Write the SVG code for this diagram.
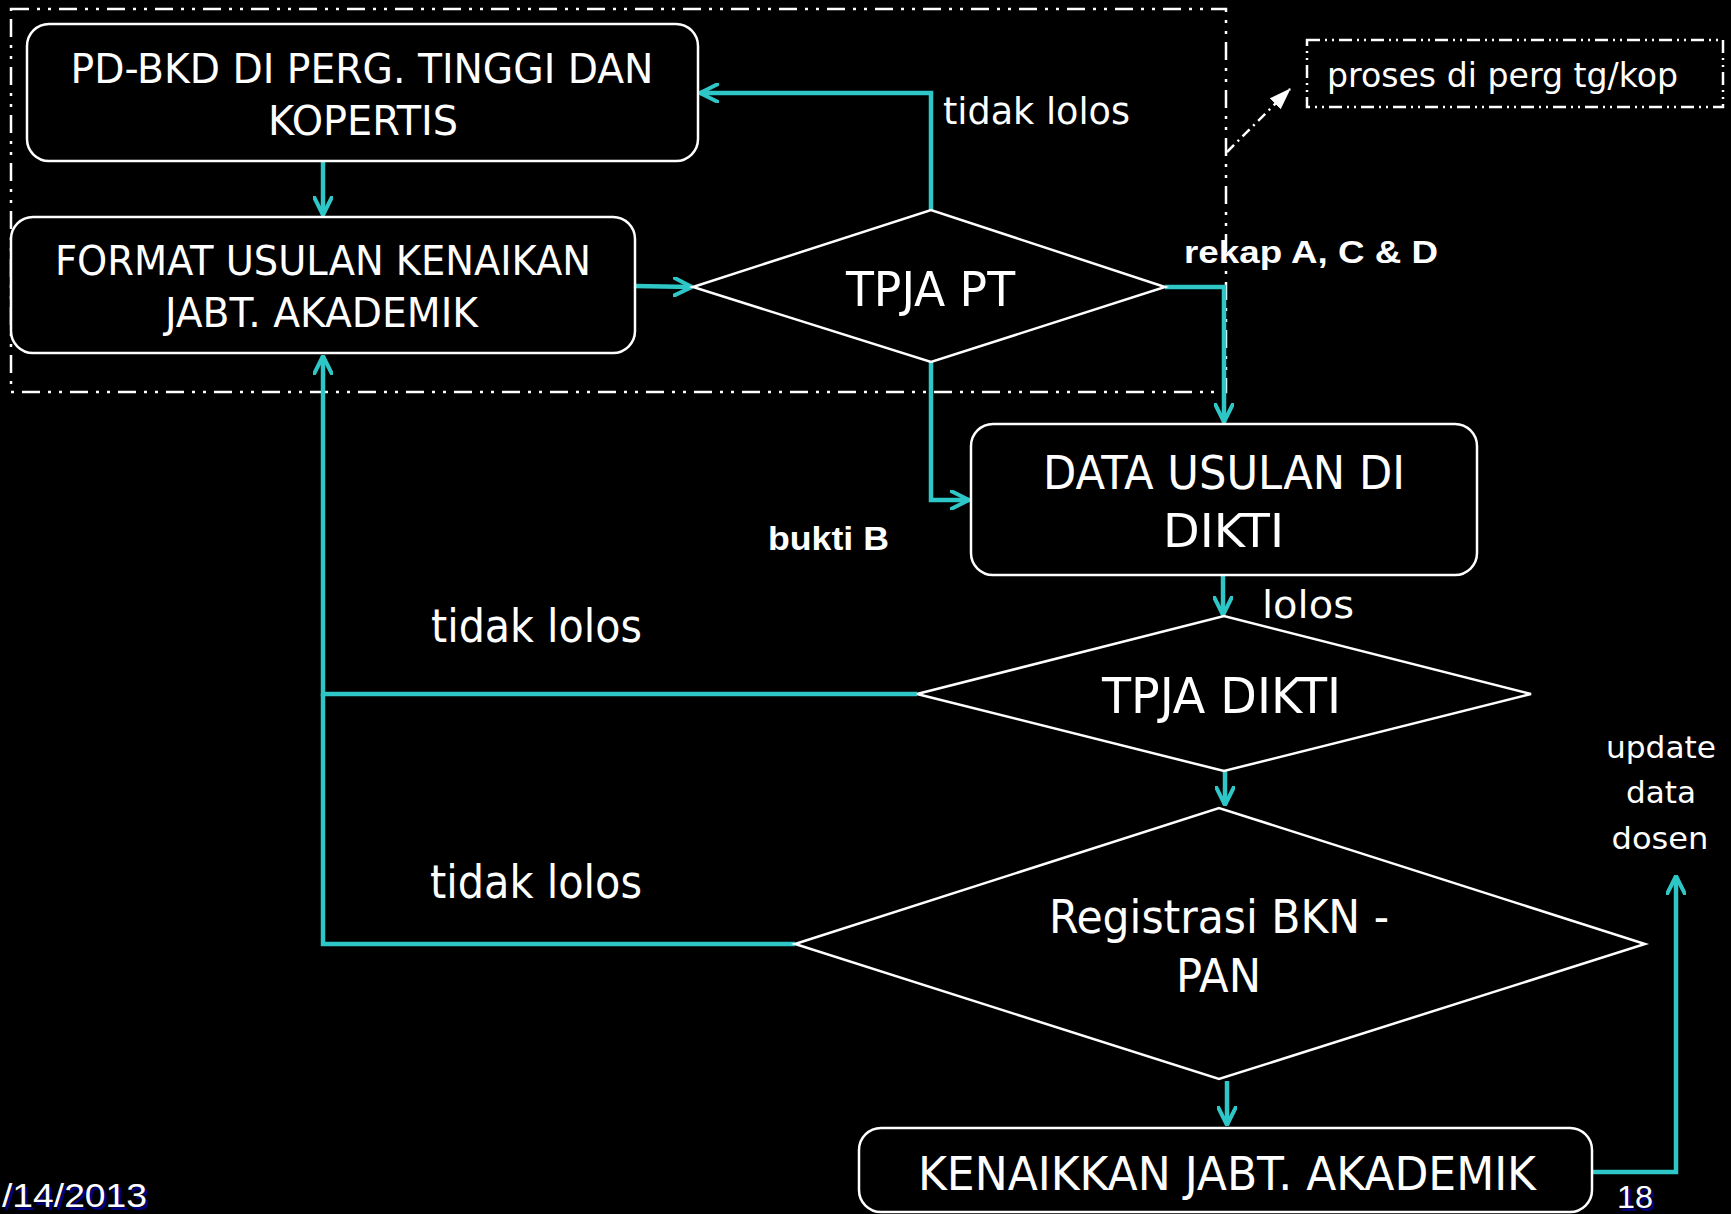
<svg xmlns="http://www.w3.org/2000/svg" width="1731" height="1214" viewBox="0 0 1731 1214">
<defs>
<style>
.bg{fill:#000}
.box{fill:#000;stroke:#fff;stroke-width:2.5}
.dd{fill:none;stroke:#fff;stroke-width:2.5;stroke-dasharray:18 8 3 8 3 8}
.dd2{fill:none;stroke:#fff;stroke-width:2.5;stroke-dasharray:13 5 2 5 2 5}
.t{fill:#fff;font-family:"DejaVu Sans Condensed","DejaVu Sans",sans-serif;text-anchor:middle}
.l{fill:#fff;font-family:"DejaVu Sans Condensed","DejaVu Sans",sans-serif}
.b{fill:#fff;font-family:"Liberation Sans",Arial,sans-serif;font-weight:bold}
.f{fill:#fff;font-family:"Liberation Sans",Arial,sans-serif}
.fs{fill:#000080;font-family:"Liberation Sans",Arial,sans-serif}
.c{fill:none;stroke:#2EC6C6;stroke-width:4.5;stroke-linejoin:miter}
</style>
<marker id="ah" viewBox="0 0 20 20" refX="19" refY="10" markerWidth="20" markerHeight="20" markerUnits="userSpaceOnUse" orient="auto">
<path d="M1,1 L19,10 L1,19" fill="none" stroke="#2EC6C6" stroke-width="4" stroke-linecap="round" stroke-linejoin="round"/>
</marker>
<marker id="wh" viewBox="0 0 20 20" refX="19" refY="10" markerWidth="22" markerHeight="22" markerUnits="userSpaceOnUse" orient="auto">
<path d="M0,3 L20,10 L0,17 Z" fill="#fff"/>
</marker>
</defs>
<rect class="bg" x="0" y="0" width="1731" height="1214"/>

<g id="group-pt">
<rect class="dd" x="11" y="9" width="1215" height="383"/>
</g>

<g id="legend">
<rect class="dd2" x="1307" y="40" width="416" height="67"/>
<text class="l" x="1327" y="87" font-size="34" textLength="351" lengthAdjust="spacingAndGlyphs">proses di perg tg/kop</text>
<path d="M1227,152 L1290,89" fill="none" stroke="#fff" stroke-width="2.5" stroke-dasharray="10 5 2 5" marker-end="url(#wh)"/>
</g>

<g id="connectors">
<path class="c" d="M323,161 L323,215" marker-end="url(#ah)"/>
<path class="c" d="M635,286 L692,287" marker-end="url(#ah)"/>
<path class="c" d="M931,210 L931,93 L700,93" marker-end="url(#ah)"/>
<path class="c" d="M1165,287 L1224,287 L1224,422" marker-end="url(#ah)"/>
<path class="c" d="M931,362 L931,500 L969,500" marker-end="url(#ah)"/>
<path class="c" d="M1223,575 L1223,615" marker-end="url(#ah)"/>
<path class="c" d="M917,694 L323,694 L323,356" marker-end="url(#ah)"/>
<path class="c" d="M795,944 L323,944 L323,694"/>
<path class="c" d="M1225,762 L1225,805" marker-end="url(#ah)"/>
<path class="c" d="M1227,1081 L1227,1125" marker-end="url(#ah)"/>
<path class="c" d="M1592,1172 L1676,1172 L1676,876" marker-end="url(#ah)"/>
</g>

<g id="node-pdbkd">
<rect class="box" x="27" y="24" width="671" height="137" rx="22"/>
<text class="t" x="362" y="83" font-size="41" textLength="583" lengthAdjust="spacingAndGlyphs">PD-BKD DI PERG. TINGGI DAN</text>
<text class="t" x="363" y="135" font-size="41" textLength="190" lengthAdjust="spacingAndGlyphs">KOPERTIS</text>
</g>

<g id="node-format">
<rect class="box" x="11" y="217" width="624" height="136" rx="22"/>
<text class="t" x="323" y="275" font-size="41" textLength="536" lengthAdjust="spacingAndGlyphs">FORMAT USULAN KENAIKAN</text>
<text class="t" x="321.5" y="327" font-size="41" textLength="313" lengthAdjust="spacingAndGlyphs">JABT. AKADEMIK</text>
</g>

<g id="node-tpjapt">
<polygon class="box" points="693,287 931,210 1165,287 931,362"/>
<text class="t" x="930.5" y="306" font-size="48" textLength="169" lengthAdjust="spacingAndGlyphs">TPJA PT</text>
</g>

<g id="node-data">
<rect class="box" x="971" y="424" width="506" height="151" rx="22"/>
<text class="t" x="1224" y="489" font-size="47" textLength="362" lengthAdjust="spacingAndGlyphs">DATA USULAN DI</text>
<text class="t" x="1223.5" y="547" font-size="47" textLength="121" lengthAdjust="spacingAndGlyphs">DIKTI</text>
</g>

<g id="node-tpjadikti">
<polygon class="box" points="917,694 1224,616 1531,694 1224,771"/>
<text class="t" x="1221.5" y="713" font-size="49" textLength="239" lengthAdjust="spacingAndGlyphs">TPJA DIKTI</text>
</g>

<g id="node-registrasi">
<polygon class="box" points="795,944 1219,808 1645,944 1219,1079"/>
<text class="t" x="1219" y="933" font-size="47" textLength="340" lengthAdjust="spacingAndGlyphs">Registrasi BKN -</text>
<text class="t" x="1218.5" y="992" font-size="47" textLength="85" lengthAdjust="spacingAndGlyphs">PAN</text>
</g>

<g id="node-kenaikkan">
<rect class="box" x="859" y="1128" width="733" height="84" rx="22"/>
<text class="t" x="1227" y="1190" font-size="47" textLength="618" lengthAdjust="spacingAndGlyphs">KENAIKKAN JABT. AKADEMIK</text>
</g>

<g id="labels">
<text class="l" x="943" y="124" font-size="38" textLength="187" lengthAdjust="spacingAndGlyphs">tidak lolos</text>
<text class="b" x="1184" y="263" font-size="32" textLength="254" lengthAdjust="spacingAndGlyphs">rekap A, C &amp; D</text>
<text class="b" x="768" y="550" font-size="33" textLength="121" lengthAdjust="spacingAndGlyphs">bukti B</text>
<text class="l" x="1262" y="618" font-size="37" textLength="92" lengthAdjust="spacingAndGlyphs">lolos</text>
<text class="l" x="431" y="642" font-size="46" textLength="211" lengthAdjust="spacingAndGlyphs">tidak lolos</text>
<text class="l" x="430" y="898" font-size="46" textLength="212" lengthAdjust="spacingAndGlyphs">tidak lolos</text>
<text class="t" x="1661" y="758" font-size="31" textLength="110" lengthAdjust="spacingAndGlyphs">update</text>
<text class="t" x="1661" y="803" font-size="31" textLength="70" lengthAdjust="spacingAndGlyphs">data</text>
<text class="t" x="1660" y="849" font-size="31" textLength="97" lengthAdjust="spacingAndGlyphs">dosen</text>
</g>

<g id="footer">
<text class="fs" x="5" y="1210" font-size="34" textLength="145" lengthAdjust="spacingAndGlyphs">/14/2013</text>
<text class="f" x="2" y="1207" font-size="34" textLength="145" lengthAdjust="spacingAndGlyphs">/14/2013</text>
<text class="fs" x="1620" y="1211" font-size="32" textLength="36" lengthAdjust="spacingAndGlyphs">18</text>
<text class="f" x="1617" y="1208" font-size="32" textLength="36" lengthAdjust="spacingAndGlyphs">18</text>
</g>
</svg>
